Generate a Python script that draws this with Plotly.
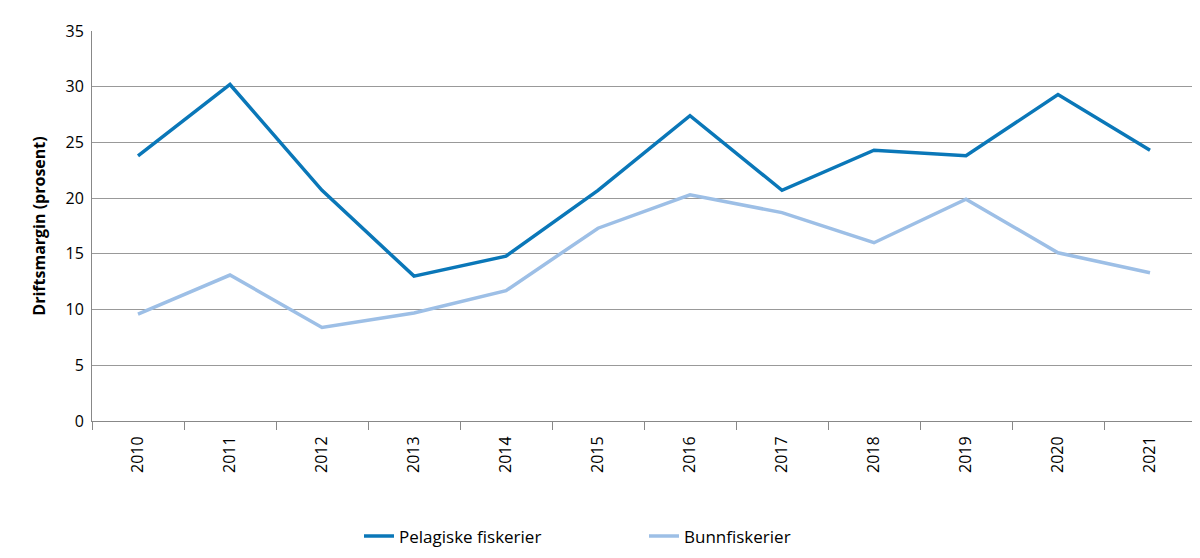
import plotly.graph_objects as go

years = ["2010", "2011", "2012", "2013", "2014", "2015", "2016", "2017", "2018", "2019", "2020", "2021"]
pelagiske = [23.8, 30.2, 20.7, 13.0, 14.8, 20.7, 27.4, 20.7, 24.3, 23.8, 29.3, 24.3]
bunn = [9.6, 13.1, 8.4, 9.7, 11.7, 17.3, 20.3, 18.7, 16.0, 19.9, 15.1, 13.3]

fig = go.Figure()
fig.add_trace(go.Scatter(x=years, y=pelagiske, mode="lines", name="Pelagiske fiskerier",
                         line=dict(color="#0a77b8", width=3.5)))
fig.add_trace(go.Scatter(x=years, y=bunn, mode="lines", name="Bunnfiskerier     ",
                         line=dict(color="#9dbfe6", width=3.5)))

fig.update_layout(
    width=1200, height=558,
    margin=dict(l=84, r=12, t=17, b=118),
    plot_bgcolor="white", paper_bgcolor="white",
    font=dict(family="Open Sans", size=16, color="black"),
    legend=dict(orientation="h", x=0.5, xanchor="center", y=-0.25, yanchor="top",
                font=dict(size=17), entrywidth=240),
    xaxis=dict(type="category", range=[-0.5, 11.5], tickangle=-90, showgrid=False, showline=True,
               linecolor="#888", tickson="boundaries", ticks="outside", ticklen=8,
               tickcolor="#888", ticklabelstandoff=8),
    yaxis=dict(range=[0, 35], dtick=5, showgrid=True, gridcolor="#999", gridwidth=1,
               showline=True, linecolor="#888", zeroline=False, ticklabelstandoff=4,
               title=dict(text="<b>Driftsmargin (prosent)</b>", font=dict(size=16))),
)

fig.write_html("out.html")
